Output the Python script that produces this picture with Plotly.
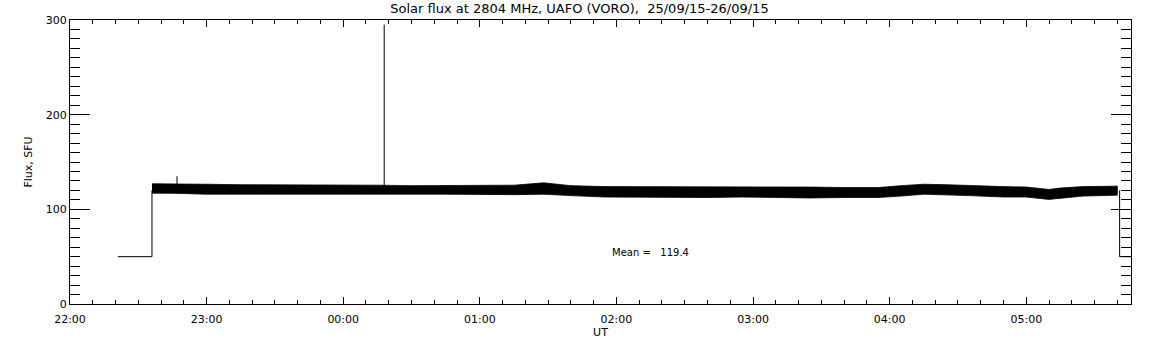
import plotly.graph_objects as go

# ---- data ----
band_times = ["22:36", "22:45", "23:00", "23:15", "23:30", "23:45", "00:00", "00:15",
              "00:30", "00:45", "01:00", "01:15", "01:28", "01:40", "01:55", "02:10",
              "02:25", "02:40", "02:55", "03:10", "03:25", "03:40", "03:55", "04:05",
              "04:15", "04:25", "04:35", "04:50", "05:00", "05:10", "05:15", "05:25", "05:40"]
band_upper = [127, 127, 126.5, 126, 126, 125.5, 125.5, 125.5, 125, 125, 125.5, 125.5, 128,
              125, 124, 124, 124, 123.5, 123.5, 124, 123.5, 123, 123, 125, 126.5, 126, 125,
              124, 123.5, 121, 122.5, 124, 124.5]
band_lower = [117, 117, 116, 116, 116, 116, 116, 116, 116, 116, 116, 115.5, 116, 114.5,
              113, 113, 112.5, 112.5, 113, 112.5, 112, 112.5, 112.5, 114, 116, 115.5, 114.5,
              113, 113, 110.5, 112, 114, 115]

start_times = ["22:21", "22:36", "22:36"]
start_flux = [50, 50, 120]
end_times = ["05:41", "05:41", "05:46"]
end_flux = [120, 50, 50]
spike_times = ["00:18", "00:18"]
spike_flux = [120, 295]
small_spike_times = ["22:47", "22:47"]
small_spike_flux = [122, 135]

mean_value = 119.4
x_range = ["22:00", "05:46"]
title_text = "Solar flux at 2804 MHz, UAFO (VORO),  25/09/15-26/09/15"


def to_dt(hm):
    h = int(hm.split(":")[0])
    day = "2015-09-25" if h >= 12 else "2015-09-26"
    return f"{day} {hm}:00"


bx = [to_dt(t) for t in band_times]
fig = go.Figure()
fig.add_trace(go.Scatter(
    x=bx + bx[::-1], y=band_upper + band_lower[::-1],
    fill="toself", fillcolor="black", mode="lines",
    line=dict(color="black", width=0.8), hoverinfo="skip"))
for xs, ys in [(start_times, start_flux), (end_times, end_flux),
               (spike_times, spike_flux), (small_spike_times, small_spike_flux)]:
    fig.add_trace(go.Scatter(x=[to_dt(t) for t in xs], y=ys, mode="lines",
                             line=dict(color="black", width=1)))

fig.add_annotation(x=to_dt("01:57"), y=54, xanchor="left", yanchor="middle",
                   text=f"Mean =   {mean_value}", showarrow=False,
                   font=dict(family="DejaVu Sans", size=10, color="black"))

font = dict(family="DejaVu Sans", size=11, color="black")
xr = [to_dt(x_range[0]), to_dt(x_range[1])]
fig.update_layout(
    width=1152, height=345,
    margin=dict(l=70, r=21, t=20, b=41),
    paper_bgcolor="white", plot_bgcolor="white",
    showlegend=False,
    font=font,
    title=dict(text=title_text, x=0.503, xanchor="center", y=0.99, yanchor="top",
               font=dict(family="DejaVu Sans", size=13, color="black")),
    xaxis=dict(
        type="date", range=xr,
        tickformat="%H:%M", tickmode="linear", dtick=3600000, tick0=to_dt("22:00"),
        ticks="inside", ticklen=7, tickcolor="black", tickwidth=1,
        showline=True, linecolor="black", linewidth=1, mirror="allticks",
        showgrid=False, zeroline=False, automargin=False,
        ticklabelstandoff=5,
        title=dict(text="UT", standoff=0, font=font),
        tickfont=font,
    ),
    xaxis2=dict(
        type="date", range=xr, overlaying="x", anchor="y", side="bottom",
        tickmode="linear", dtick=600000, tick0=to_dt("22:00"),
        ticks="inside", ticklen=4, tickcolor="black", tickwidth=1,
        showticklabels=False, showline=False, mirror="allticks",
        showgrid=False, zeroline=False, automargin=False,
    ),
    yaxis=dict(
        range=[0, 300], tickmode="linear", tick0=0, dtick=100,
        ticks="inside", ticklen=20, tickcolor="black", tickwidth=1,
        showline=True, linecolor="black", linewidth=1, mirror="allticks",
        showgrid=False, zeroline=False, automargin=False,
        title=dict(text="Flux, SFU", standoff=10, font=font),
        tickfont=font,
    ),
    yaxis2=dict(
        range=[0, 300], overlaying="y", anchor="x", side="left",
        tickmode="linear", tick0=0, dtick=10,
        ticks="inside", ticklen=10, tickcolor="black", tickwidth=1,
        showticklabels=False, showline=False, mirror="allticks",
        showgrid=False, zeroline=False, automargin=False,
    ),
)
# invisible helper trace so the overlay tick axes are drawn
fig.add_trace(go.Scatter(x=xr, y=[0, 300], xaxis="x2", yaxis="y2", mode="lines",
                         line=dict(width=0), hoverinfo="skip", showlegend=False))

fig.write_html("out.html", config={"displayModeBar": False},
               post_script="document.body.style.margin='0';document.body.style.overflow='hidden';")
